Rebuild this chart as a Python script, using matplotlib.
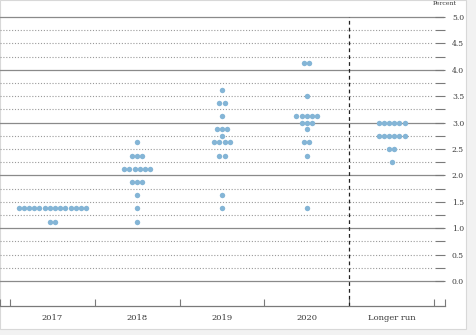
import numpy as np
import matplotlib
matplotlib.use("Agg")
import matplotlib.pyplot as plt
from matplotlib.patches import Rectangle
from matplotlib.lines import Line2D

categories = ["2017", "2018", "2019", "2020", "Longer run"]

# midpoint of target range (percent) and number of participants at that level
rates_2017 = [1.375, 1.125]
counts_2017 = [14, 2]
rates_2018 = [2.625, 2.375, 2.125, 1.875, 1.625, 1.375, 1.125]
counts_2018 = [1, 3, 6, 3, 1, 1, 1]
rates_2019 = [3.625, 3.375, 3.125, 2.875, 2.75, 2.625, 2.375, 1.625, 1.375]
counts_2019 = [1, 2, 1, 3, 1, 4, 2, 1, 1]
rates_2020 = [4.125, 3.5, 3.125, 3.0, 2.875, 2.625, 2.375, 1.375]
counts_2020 = [2, 1, 5, 3, 1, 2, 1, 1]
rates_lr = [3.0, 2.75, 2.5, 2.25]
counts_lr = [6, 6, 2, 1]

y_ticks = np.arange(0, 5.01, 0.25)
y_labels = np.arange(0, 5.01, 0.5)

DOT = "#84b5d6"
TEXT = "#3a3a3a"
SPACING = 0.0615

fig = plt.figure(figsize=(4.76, 3.35), dpi=100)
fig.patch.set_facecolor("#f2f2f2")
# white card with a soft edge
fig.add_artist(Rectangle((0, 1 - 329 / 335), 466 / 476, 329 / 335, transform=fig.transFigure,
                         facecolor="white", edgecolor="#d8d8d8", lw=0.8, zorder=0))

ax = fig.add_axes([0, 1 - 306 / 335, 445 / 476, (306 - 17) / 335])
ax.set_facecolor("none")
ax.set_xlim(-0.618, 4.63)
ax.set_ylim(-0.473, 5.0)

# horizontal guides: solid at whole percents, dotted elsewhere
for v in y_ticks:
    if abs(v - round(v)) < 1e-9:
        ax.axhline(v, xmin=0, xmax=443 / 445, color="#8a8a8a", lw=0.9, zorder=1, clip_on=False)
    else:
        ax.axhline(v, xmin=0, xmax=433 / 445, color="#9a9a9a", lw=0.8, ls=(0, (1, 1.6)), zorder=1)

ax.axvline(3.5, color="#222222", lw=0.9, ls=(0, (3, 2.5)), zorder=2, clip_on=False)

groups = [(rates_2017, counts_2017), (rates_2018, counts_2018), (rates_2019, counts_2019),
          (rates_2020, counts_2020), (rates_lr, counts_lr)]
for i, (rates, counts) in enumerate(groups):
    for r, n in zip(rates, counts):
        xs = i + (np.arange(n) - (n - 1) / 2) * SPACING
        ax.plot(xs, [r] * n, "o", color=DOT, ms=3.9, mew=0, zorder=3)

for s in ["top", "left", "right"]:
    ax.spines[s].set_visible(False)
ax.spines["bottom"].set_color("#7a7a7a")
ax.spines["bottom"].set_linewidth(0.9)

ax.yaxis.tick_right()
ax.set_yticks(y_ticks)
ax.set_yticklabels(["%.1f" % v if abs(v * 2 - round(v * 2)) < 1e-9 else "" for v in y_ticks])
ax.tick_params(axis="y", direction="in", length=7.5, width=0.8, color="#7a7a7a", pad=5,
               labelsize=5.5, labelcolor=TEXT)
ax.set_ylim(-0.473, 5.0)

bounds = [-0.618, -0.5, 0.5, 1.5, 2.5, 3.5, 4.5, 4.63]
ax.set_xticks(bounds)
ax.set_xticklabels([""] * len(bounds))
ax.tick_params(axis="x", direction="in", length=5, width=0.8, color="#7a7a7a")
ax.set_xticks(range(len(categories)), minor=True)
ax.set_xticklabels(categories, minor=True)
ax.tick_params(axis="x", which="minor", length=0, pad=6, labelsize=6, labelcolor=TEXT)
ax.set_xlim(-0.618, 4.63)

for lbl in ax.get_xticklabels(minor=True) + ax.get_yticklabels():
    lbl.set_family("DejaVu Serif")

ax.annotate("Percent", xy=(1.0, 1.0), xycoords="axes fraction", xytext=(0, 8),
            textcoords="offset points", ha="center", va="bottom", fontsize=4.5,
            color=TEXT, family="DejaVu Serif")

fig.savefig("out.png", dpi=100, facecolor=fig.get_facecolor())
